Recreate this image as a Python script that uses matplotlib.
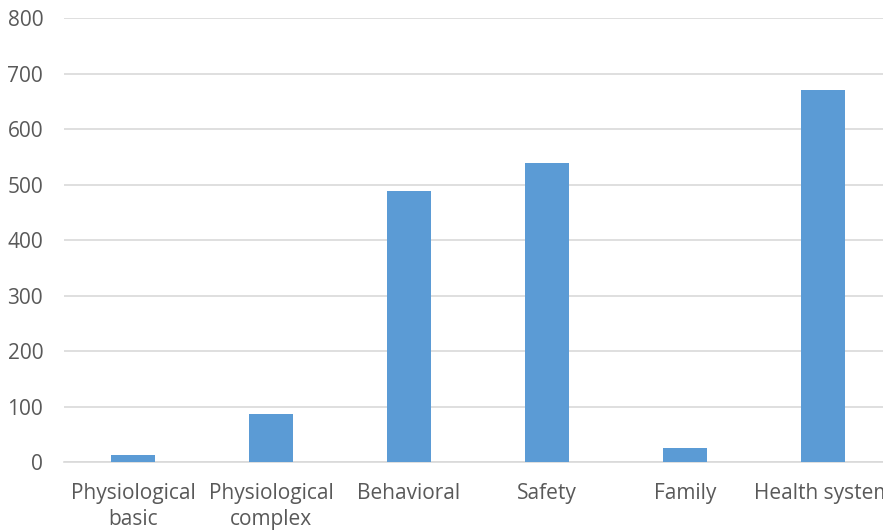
import matplotlib
matplotlib.use("Agg")
import matplotlib.pyplot as plt

categories = ["Physiological\nbasic", "Physiological\ncomplex", "Behavioral", "Safety", "Family", "Health system"]
values = [13, 87, 488, 538, 26, 671]
yticks = [0, 100, 200, 300, 400, 500, 600, 700, 800]

plt.rcParams['font.family'] = ['Open Sans', 'DejaVu Sans']

fig = plt.figure(figsize=(8.83, 5.30), dpi=100)
ax = fig.add_axes([0.0725, 0.128, 0.9377, 0.838])

x = list(range(len(categories)))
ax.bar(x, values, width=0.32, color="#5B9BD5", zorder=3)
ax.set_xlim(-0.5, len(categories) - 0.5)
ax.set_ylim(0, 800)
ax.set_yticks(yticks)
ax.set_xticks(x)
ax.set_xticklabels(categories, linespacing=1.33)
ax.grid(axis="y", color="#D9D9D9", linewidth=1.2, zorder=0)
for s in ["top", "right", "left"]:
    ax.spines[s].set_visible(False)
ax.spines["bottom"].set_color("#D9D9D9")
ax.spines["bottom"].set_linewidth(1.2)
ax.tick_params(axis="both", length=0, colors="#595959", labelsize=15)
ax.tick_params(axis="y", pad=15)
ax.tick_params(axis="x", pad=15)

fig.savefig("out.png", dpi=100)
